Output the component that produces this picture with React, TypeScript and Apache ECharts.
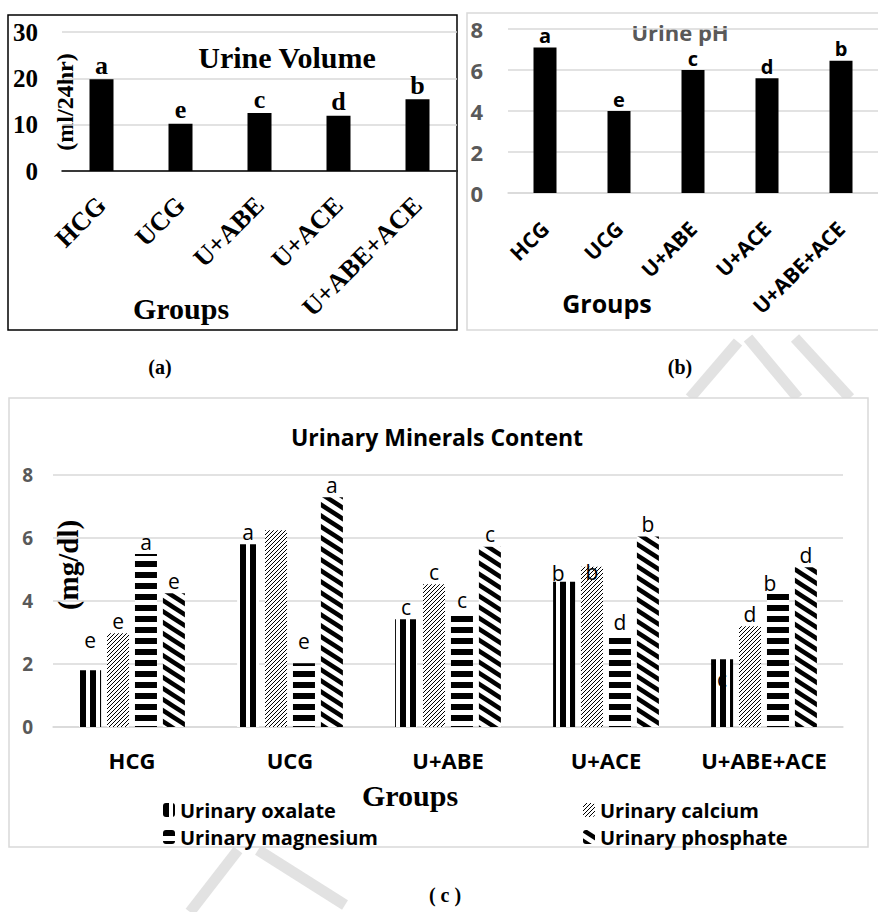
import React, { useEffect, useRef } from "react";
import * as echarts from "echarts";

// ---------- data ----------
const groups = ["HCG", "UCG", "U+ABE", "U+ACE", "U+ABE+ACE"];

const urineVolume = [19.8, 10.2, 12.5, 11.9, 15.5];
const volumeLetters = ["a", "e", "c", "d", "b"];
const volumeTicks = { min: 0, max: 30, step: 10 };

const urinePH = [7.1, 4.0, 6.0, 5.6, 6.45];
const phLetters = ["a", "e", "c", "d", "b"];
const phTicks = { min: 0, max: 8, step: 2 };

const mineralNames = ["Urinary oxalate", "Urinary calcium", "Urinary magnesium", "Urinary phosphate"];
const oxalate = [1.8, 5.8, 3.42, 4.61, 2.15];
const calcium = [2.98, 6.25, 4.53, 5.09, 3.2];
const magnesium = [5.49, 2.02, 3.65, 2.94, 4.25];
const phosphate = [4.25, 7.29, 5.72, 6.05, 5.07];
const oxalateLetters = ["e", "a", "c", "b", "c"];
const calciumLetters = ["e", "", "c", "b", "d"];
const magnesiumLetters = ["a", "e", "c", "d", "b"];
const phosphateLetters = ["e", "a", "c", "b", "d"];
const mineralTicks = { min: 0, max: 8, step: 2 };

// label nudges (styling only)
const labelNudges: Record<string, Record<number, number[]>> = {
  oxalate: { 0: [0, -18], 3: [-6, 4], 4: [0, 32] },
  calcium: { 3: [0, 18] },
  magnesium: { 1: [0, -10], 4: [-8, 2] },
  phosphate: {},
};

const SERIF = "Liberation Serif";
const SANS = "Open Sans";
const WM = "#e2e2e2";

function makePattern(w: number, h: number, draw: (ctx: CanvasRenderingContext2D) => void) {
  const c = document.createElement("canvas");
  c.width = w;
  c.height = h;
  const ctx = c.getContext("2d")!;
  ctx.fillStyle = "#ffffff";
  ctx.fillRect(0, 0, w, h);
  ctx.fillStyle = "#000000";
  ctx.strokeStyle = "#000000";
  draw(ctx);
  return { image: c, repeat: "repeat", imageWidth: w, imageHeight: h } as any;
}

export default function App() {
  const ref = useRef<HTMLDivElement>(null);

  useEffect(() => {
    if (!ref.current) return;
    const chart = echarts.init(ref.current, null, { renderer: "svg" });

    const oxPat = makePattern(10, 10, (ctx) => ctx.fillRect(0, 0, 6, 10));
    const caPat = makePattern(4, 4, (ctx) => {
      for (let i = 0; i < 4; i++) ctx.fillRect(i, 3 - i, 1, 1);
    });
    const mgPat = makePattern(10, 11, (ctx) => ctx.fillRect(0, 0, 10, 6));
    const phPat = makePattern(17, 11, (ctx) => {
      ctx.lineWidth = 4.5;
      for (let k = -2; k <= 2; k++) {
        ctx.beginPath();
        ctx.moveTo(-17, -11 + k * 11);
        ctx.lineTo(34, 22 + k * 11);
        ctx.stroke();
      }
    });

    const mineralSeries = [
      { name: mineralNames[0], data: oxalate, letters: oxalateLetters, pat: oxPat, key: "oxalate" },
      { name: mineralNames[1], data: calcium, letters: calciumLetters, pat: caPat, key: "calcium" },
      { name: mineralNames[2], data: magnesium, letters: magnesiumLetters, pat: mgPat, key: "magnesium" },
      { name: mineralNames[3], data: phosphate, letters: phosphateLetters, pat: phPat, key: "phosphate" },
    ].map((s) => ({
      type: "bar",
      name: s.name,
      xAxisIndex: 2,
      yAxisIndex: 2,
      barWidth: 22,
      barGap: "27%",
      itemStyle: { color: s.pat },
      data: s.data.map((v, i) => {
        const nudge = labelNudges[s.key][i];
        return nudge ? { value: v, label: { offset: nudge } } : { value: v };
      }),
      label: {
        show: true,
        position: "top",
        distance: 2,
        formatter: (p: any) => s.letters[p.dataIndex],
        fontFamily: SANS,
        fontSize: 21,
        color: "#000",
      },
    }));

    const text = (x: number, y: number, t: string, font: any, extra: any = {}) => ({
      type: "text",
      x,
      y,
      ...extra,
      style: {
        text: t,
        textAlign: "center",
        textVerticalAlign: "middle",
        fill: "#000",
        ...font,
      },
    });

    const wm = (x1: number, y1: number, x2: number, y2: number) => ({
      type: "line",
      z: -10,
      shape: { x1, y1, x2, y2 },
      style: { stroke: WM, lineWidth: 11 },
    });

    const legendBase = {
      orient: "vertical",
      top: 795,
      itemGap: 7,
      itemWidth: 12,
      itemHeight: 14,
      selectedMode: false,
      textStyle: { fontFamily: SANS, fontWeight: "bold", fontSize: 20, color: "#000" },
    };

    const option: any = {
      animation: false,
      backgroundColor: "#ffffff",
      grid: [
        { left: 62, top: 32, width: 395, height: 139 },
        { left: 508, top: 29, width: 380, height: 164 },
        { left: 53, top: 475, width: 790, height: 252 },
      ],
      legend: [
        { ...legendBase, data: [mineralNames[0], mineralNames[2]], left: 158 },
        { ...legendBase, data: [mineralNames[1], mineralNames[3]], left: 578 },
      ],
      xAxis: [
        {
          gridIndex: 0,
          type: "category",
          data: groups,
          axisLine: { lineStyle: { color: "#000", width: 1.5 } },
          axisTick: { show: false },
          axisLabel: {
            interval: 0,
            rotate: 45,
            margin: 30,
            fontFamily: SERIF,
            fontWeight: "bold",
            fontSize: 26,
            color: "#000",
          },
        },
        {
          gridIndex: 1,
          type: "category",
          data: groups,
          axisLine: { lineStyle: { color: "#d9d9d9", width: 1.5 } },
          axisTick: { show: false },
          axisLabel: {
            interval: 0,
            rotate: 45,
            margin: 32,
            fontFamily: SANS,
            fontWeight: "bold",
            fontSize: 21,
            color: "#000",
          },
        },
        {
          gridIndex: 2,
          type: "category",
          data: groups,
          axisLine: { lineStyle: { color: "#d9d9d9", width: 1.5 } },
          axisTick: { show: false },
          axisLabel: {
            interval: 0,
            margin: 22,
            fontFamily: SANS,
            fontWeight: "bold",
            fontSize: 22,
            color: "#000",
          },
        },
      ],
      yAxis: [
        {
          gridIndex: 0,
          type: "value",
          min: volumeTicks.min,
          max: volumeTicks.max,
          interval: volumeTicks.step,
          axisLine: { show: false },
          axisTick: { show: false },
          splitLine: { lineStyle: { color: "#d9d9d9", width: 1.5 } },
          axisLabel: { margin: 24, fontFamily: SERIF, fontWeight: "bold", fontSize: 25, color: "#000" },
        },
        {
          gridIndex: 1,
          type: "value",
          min: phTicks.min,
          max: phTicks.max,
          interval: phTicks.step,
          axisLine: { show: false },
          axisTick: { show: false },
          splitLine: { lineStyle: { color: "#d9d9d9", width: 1.5 } },
          axisLabel: { margin: 25, fontFamily: SANS, fontWeight: "bold", fontSize: 22, color: "#595959" },
        },
        {
          gridIndex: 2,
          type: "value",
          min: mineralTicks.min,
          max: mineralTicks.max,
          interval: mineralTicks.step,
          axisLine: { show: false },
          axisTick: { show: false },
          splitLine: { lineStyle: { color: "#d9d9d9", width: 1.5 } },
          axisLabel: { margin: 20, fontFamily: SANS, fontWeight: "bold", fontSize: 19, color: "#595959" },
        },
      ],
      series: [
        {
          type: "bar",
          xAxisIndex: 0,
          yAxisIndex: 0,
          data: urineVolume,
          barWidth: 24,
          itemStyle: { color: "#000" },
          label: {
            show: true,
            position: "top",
            distance: 1,
            formatter: (p: any) => volumeLetters[p.dataIndex],
            fontFamily: SERIF,
            fontWeight: "bold",
            fontSize: 26,
            color: "#000",
          },
        },
        {
          type: "bar",
          xAxisIndex: 1,
          yAxisIndex: 1,
          data: urinePH,
          barWidth: 23,
          itemStyle: { color: "#000" },
          label: {
            show: true,
            position: "top",
            distance: 3,
            lineHeight: 18,
            formatter: (p: any) => phLetters[p.dataIndex],
            fontFamily: SANS,
            fontWeight: "bold",
            fontSize: 20,
            color: "#000",
          },
        },
        ...mineralSeries,
      ],
      graphic: [
        wm(690, 398, 738, 342),
        wm(748, 338, 798, 398),
        wm(795, 338, 850, 398),
        wm(190, 912, 238, 850),
        wm(258, 850, 345, 905),
        { type: "rect", z: -5, shape: { x: 8, y: 15, width: 449, height: 315 }, style: { fill: "#fff", stroke: "#000", lineWidth: 1.5 } },
        { type: "rect", z: -5, shape: { x: 467, y: 13, width: 430, height: 317 }, style: { fill: "#fff", stroke: "#d9d9d9", lineWidth: 1.5 } },
        { type: "rect", z: -5, shape: { x: 9, y: 398, width: 859, height: 449 }, style: { fill: "#fff", stroke: "#d9d9d9", lineWidth: 1.5 } },
        text(287, 57, "Urine Volume", { font: `bold 30px "${SERIF}"` }),
        text(65, 102, "(ml/24hr)", { font: `bold 24px "${SERIF}"` }, { rotation: Math.PI / 2 }),
        text(181, 308, "Groups", { font: `bold 30px "${SERIF}"` }),
        text(680, 32, "Urine pH", { font: `bold 22px "${SANS}"`, fill: "#595959", lineHeight: 20 }),
        text(607, 303, "Groups", { font: `bold 25px "${SANS}"` }),
        text(160, 367, "(a)", { font: `bold 20px "${SERIF}"` }),
        text(680, 367, "(b)", { font: `bold 20px "${SERIF}"` }),
        text(437, 437, "Urinary Minerals Content", { font: `bold 23px "${SANS}"` }),
        text(68, 565, "(mg/dl)", { font: `bold 29px "${SERIF}"` }, { rotation: Math.PI / 2 }),
        text(410, 795, "Groups", { font: `bold 30px "${SERIF}"` }),
        text(445, 895, "( c )", { font: `bold 20px "${SERIF}"` }),
      ],
    };

    chart.setOption(option);
    return () => chart.dispose();
  }, []);

  return (
    <div
      ref={ref}
      style={{ position: "fixed", left: 0, top: 0, width: 878, height: 912, background: "#fff" }}
    />
  );
}
